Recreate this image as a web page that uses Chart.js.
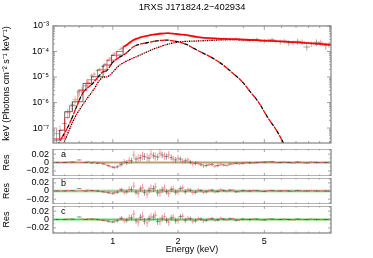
<!DOCTYPE html>
<html>
<head>
<meta charset="utf-8">
<script src="https://cdn.jsdelivr.net/npm/chart.js@4.4.1/dist/chart.umd.min.js"></script>
<style>
  body { margin: 0; background: #fff; width: 373px; height: 258px; overflow: hidden; position: relative; }
  canvas { position: absolute; left: 0; }
</style>
</head>
<body>
<canvas id="main" width="373" height="146" style="top:0px;width:373px;height:146px"></canvas>
<canvas id="resA" width="373" height="27" style="top:149px;width:373px;height:27px"></canvas>
<canvas id="resB" width="373" height="26" style="top:178px;width:373px;height:26px"></canvas>
<canvas id="resC" width="373" height="52" style="top:206px;width:373px;height:52px"></canvas>
<script>
// Texts
const TITLE = '1RXS J171824.2\u2212402934';
const Y_TITLE = 'keV (Photons cm\u207B\u00B2 s\u207B\u00B9 keV\u207B\u00B9)';
const X_TITLE = 'Energy (keV)';
const RES_TITLE = 'Res';

// Axes
const xRange = [0.53, 10.15];
const yMainRange = [2.6e-8, 1e-3];
const yResRange = [-0.032, 0.032];
const xTicks = [1, 2, 5];
const xMinorTicks = [0.6, 0.7, 0.8, 0.9, 3, 4, 6, 7, 8, 9, 10];
const yMainTicks = [1e-7, 1e-6, 1e-5, 1e-4, 1e-3];
const yResTicks = [-0.02, 0, 0.02];
const yResMinor = [-0.03, -0.01, 0.01, 0.03];

// Spectrum data (two instruments: black and red)
const energyBlack = [0.55, 0.60, 0.65, 0.70, 0.75, 0.80, 0.85, 0.90, 0.95, 1.00, 1.05, 1.10, 1.16, 1.22, 1.28, 1.34, 1.40, 1.47, 1.54, 1.61, 1.69, 1.77, 1.86, 1.95, 2.05, 2.16, 2.28, 2.41, 2.55, 2.70, 2.87, 3.05, 3.25, 3.47, 3.71, 3.98, 4.28, 4.62, 5.00, 5.43, 5.92, 6.48, 7.12, 7.85, 8.70, 9.60];
const energyRed = [0.57, 0.62, 0.67, 0.72, 0.77, 0.82, 0.87, 0.92, 0.97, 1.02, 1.08, 1.13, 1.19, 1.25, 1.31, 1.37, 1.44, 1.50, 1.57, 1.65, 1.73, 1.81, 1.90, 2.00, 2.10, 2.22, 2.34, 2.48, 2.62, 2.78, 2.96, 3.15, 3.36, 3.59, 3.84, 4.12, 4.44, 4.80, 5.20, 5.66, 6.18, 6.78, 7.46, 8.25, 9.10, 9.95];
const fluxBlack = [6e-8, 1.5e-7, 8e-7, 2.6e-6, 4.5e-6, 1.1e-5, 1.8e-5, 2.6e-5, 4.5e-5, 7.0e-5, 1.0e-4, 1.35e-4, 1.8e-4, 2.4e-4, 2.9e-4, 3.4e-4, 3.9e-4, 4.3e-4, 4.7e-4, 4.9e-4, 5.1e-4, 5.2e-4, 5.0e-4, 4.8e-4, 4.5e-4, 4.3e-4, 3.9e-4, 3.6e-4, 3.4e-4, 3.3e-4, 3.2e-4, 3.1e-4, 3.2e-4, 3.0e-4, 3.1e-4, 2.9e-4, 2.7e-4, 3.0e-4, 2.6e-4, 2.9e-4, 2.4e-4, 2.2e-4, 2.5e-4, 1.5e-4, 2.3e-4, 1.7e-4];
const fluxRed = [8e-8, 4e-7, 1.3e-6, 3.2e-6, 6e-6, 1.3e-5, 2.0e-5, 3.2e-5, 5.5e-5, 8.5e-5, 1.2e-4, 1.6e-4, 2.1e-4, 2.7e-4, 3.2e-4, 3.7e-4, 4.2e-4, 4.6e-4, 4.9e-4, 5.3e-4, 5.1e-4, 5.4e-4, 4.9e-4, 4.6e-4, 4.5e-4, 4.1e-4, 3.7e-4, 3.5e-4, 3.3e-4, 3.2e-4, 3.3e-4, 3.0e-4, 3.1e-4, 2.9e-4, 3.0e-4, 2.8e-4, 2.9e-4, 2.6e-4, 2.8e-4, 2.5e-4, 2.6e-4, 2.2e-4, 2.4e-4, 2.0e-4, 2.3e-4, 1.9e-4];
// relative errors
const fluxErrBlack = [0.6, 0.5, 0.4, 0.3, 0.25, 0.2, 0.15, 0.12, 0.1, 0.08, 0.07, 0.06, 0.05, 0.05, 0.05, 0.05, 0.05, 0.05, 0.05, 0.05, 0.05, 0.05, 0.05, 0.05, 0.05, 0.05, 0.06, 0.06, 0.07, 0.08, 0.08, 0.09, 0.1, 0.11, 0.12, 0.13, 0.14, 0.15, 0.18, 0.2, 0.22, 0.24, 0.26, 0.28, 0.3, 0.3];
const fluxErrRed = [0.55, 0.45, 0.35, 0.28, 0.22, 0.18, 0.14, 0.11, 0.09, 0.07, 0.06, 0.05, 0.05, 0.05, 0.05, 0.05, 0.05, 0.05, 0.05, 0.05, 0.05, 0.05, 0.05, 0.05, 0.05, 0.05, 0.06, 0.06, 0.07, 0.07, 0.08, 0.09, 0.1, 0.1, 0.11, 0.12, 0.13, 0.14, 0.16, 0.18, 0.2, 0.22, 0.24, 0.25, 0.27, 0.28];

// Folded model, binned at low energy (bin left edges)
const stepEnergyBlack = [0.53, 0.569, 0.600, 0.651, 0.729, 0.797, 0.902, 0.986, 1.116];
const stepFluxBlack = [3.4e-8, 8.3e-8, 4.4e-7, 1.07e-6, 5.6e-6, 1.02e-5, 2.95e-5, 7.2e-5, 1.5e-4];
const stepEnergyRed = [0.53, 0.600, 0.632, 0.690, 0.760, 0.850, 0.940, 1.040, 1.116];
const stepFluxRed = [3.8e-8, 2.6e-7, 7.5e-7, 3.0e-6, 7.8e-6, 1.9e-5, 4.6e-5, 1.0e-4, 1.5e-4];

// Total model
const modelEnergy = [1.116, 1.16, 1.24, 1.33, 1.44, 1.53, 1.65, 1.78, 1.90, 2.0, 2.2, 2.35, 2.53, 2.9, 3.2, 3.6, 4.3, 5.2, 6.2, 7.3, 8.6, 10.15];
const modelTotal = [1.5e-4, 1.8e-4, 2.8e-4, 3.5e-4, 4.1e-4, 4.5e-4, 4.9e-4, 5.2e-4, 5.05e-4, 4.8e-4, 4.4e-4, 4.0e-4, 3.6e-4, 3.3e-4, 3.15e-4, 3.05e-4, 2.85e-4, 2.65e-4, 2.45e-4, 2.25e-4, 2.05e-4, 1.85e-4];

// Components: dashed (thermal) and dotted (power law)
const bbEnergy = [0.556, 0.632, 0.681, 0.726, 0.808, 0.871, 0.90, 0.93, 1.0, 1.16, 1.24, 1.33, 1.44, 1.55, 1.65, 1.78, 1.90, 1.98, 2.2, 2.35, 2.53, 2.9, 3.23, 3.59, 3.95, 4.31, 4.69, 5.16, 5.74, 6.25];
const bbFlux = [2.1e-8, 1.5e-7, 6.9e-7, 2.3e-6, 5.6e-6, 1.2e-5, 1.6e-5, 1.7e-5, 3.8e-5, 9.0e-5, 1.5e-4, 1.9e-4, 2.2e-4, 2.5e-4, 2.7e-4, 2.8e-4, 2.6e-4, 2.45e-4, 1.85e-4, 1.35e-4, 9.8e-5, 5.4e-5, 2.95e-5, 1.38e-5, 6.6e-6, 2.6e-6, 1.07e-6, 2.75e-7, 7.2e-8, 1.86e-8];
const plEnergy = [0.587, 0.667, 0.742, 0.825, 0.871, 0.91, 0.93, 1.077, 1.334, 1.65, 1.98, 2.53, 3.59, 5.16, 7.33, 10.15];
const plFlux = [2.0e-8, 2.5e-7, 1.05e-6, 3.7e-6, 7.6e-6, 1.0e-5, 1.0e-5, 2.95e-5, 7.2e-5, 1.55e-4, 2.3e-4, 2.6e-4, 2.9e-4, 2.6e-4, 2.2e-4, 1.8e-4];

// Residuals of the three fits
const resA_black = [0.000, 0.000, 0.001, 0.006, 0.000, -0.001, -0.002, -0.003, -0.007, -0.011, -0.010, -0.004, 0.000, 0.004, 0.008, 0.011, 0.014, 0.010, 0.016, 0.013, 0.018, 0.014, 0.012, 0.006, 0.008, 0.004, 0.001, -0.002, -0.005, -0.007, -0.005, -0.007, -0.006, -0.004, -0.002, -0.002, -0.001, 0.000, 0.001, 0.002, 0.000, 0.000, 0.001, -0.001, 0.000, 0.000];
const resA_red = [0.000, 0.001, 0.001, 0.000, 0.002, 0.001, -0.001, -0.004, -0.009, -0.012, -0.006, 0.002, 0.005, 0.018, 0.010, 0.016, 0.012, 0.020, 0.014, 0.022, 0.015, 0.018, 0.008, 0.010, 0.003, 0.006, -0.003, -0.002, -0.008, -0.005, -0.009, -0.004, -0.007, -0.003, -0.003, 0.000, -0.001, 0.001, 0.002, 0.000, 0.001, -0.001, 0.000, 0.001, 0.000, 0.000];
const resB_black = [0.000, 0.000, 0.001, 0.006, 0.000, 0.001, 0.000, -0.002, -0.004, -0.006, -0.003, 0.003, -0.002, 0.004, -0.003, 0.005, -0.004, 0.002, 0.006, -0.005, 0.003, -0.002, 0.004, -0.003, 0.006, -0.002, 0.002, -0.003, 0.001, -0.002, 0.002, -0.001, 0.001, 0.002, -0.002, 0.001, 0.000, 0.001, -0.001, 0.001, 0.000, 0.000, 0.001, 0.000, 0.000, 0.000];
const resB_red = [0.000, 0.001, 0.000, 0.001, 0.002, 0.001, -0.001, -0.003, -0.005, -0.004, 0.002, -0.003, 0.004, 0.012, -0.006, 0.008, -0.008, 0.006, 0.010, -0.004, 0.007, -0.006, 0.005, -0.002, 0.008, 0.003, -0.004, 0.002, -0.003, 0.001, -0.002, 0.003, -0.001, 0.002, -0.001, 0.000, 0.001, -0.001, 0.001, 0.000, 0.001, -0.001, 0.000, 0.001, 0.000, 0.000];
const resC_black = [0.000, 0.000, 0.001, 0.006, 0.000, 0.001, 0.000, -0.002, -0.004, -0.006, -0.003, 0.003, -0.002, 0.004, -0.003, 0.005, -0.004, 0.002, 0.006, -0.005, 0.003, -0.002, 0.004, -0.003, 0.007, -0.002, 0.002, -0.003, 0.001, -0.002, 0.002, -0.001, 0.001, 0.002, -0.002, 0.001, 0.000, 0.001, -0.001, 0.001, 0.000, 0.000, 0.001, 0.000, 0.000, 0.000];
const resC_red = [0.000, 0.001, 0.000, 0.001, 0.002, 0.001, -0.001, -0.003, -0.005, -0.004, 0.002, -0.003, 0.004, 0.013, -0.006, 0.008, -0.008, 0.006, 0.010, -0.004, 0.007, -0.006, 0.005, -0.002, 0.008, 0.003, -0.004, 0.002, -0.003, 0.001, -0.002, 0.003, -0.001, 0.002, -0.001, 0.000, 0.001, -0.001, 0.001, 0.000, 0.001, -0.001, 0.000, 0.001, 0.000, 0.000];
const resErrBlack = [0.001, 0.001, 0.001, 0.001, 0.001, 0.0015, 0.002, 0.002, 0.003, 0.003, 0.004, 0.005, 0.006, 0.007, 0.007, 0.008, 0.008, 0.008, 0.008, 0.008, 0.008, 0.007, 0.007, 0.007, 0.006, 0.006, 0.005, 0.005, 0.004, 0.004, 0.004, 0.004, 0.003, 0.003, 0.003, 0.003, 0.003, 0.002, 0.002, 0.002, 0.002, 0.002, 0.002, 0.002, 0.002, 0.002];
const resErrRed = [0.001, 0.001, 0.001, 0.001, 0.001, 0.0015, 0.002, 0.002, 0.003, 0.004, 0.005, 0.006, 0.008, 0.010, 0.010, 0.010, 0.010, 0.010, 0.010, 0.010, 0.009, 0.009, 0.008, 0.008, 0.007, 0.006, 0.006, 0.005, 0.005, 0.004, 0.004, 0.004, 0.003, 0.003, 0.003, 0.003, 0.003, 0.002, 0.002, 0.002, 0.002, 0.002, 0.002, 0.002, 0.002, 0.002];

const FONT = '"Liberation Sans", Arial, sans-serif';
Chart.defaults.font.family = FONT;
Chart.defaults.font.size = 9;
Chart.defaults.color = '#000';

const SUP = { '-': '\u207B', '0': '\u2070', '1': '\u00B9', '2': '\u00B2', '3': '\u00B3', '4': '\u2074', '5': '\u2075', '6': '\u2076', '7': '\u2077', '8': '\u2078', '9': '\u2079' };
const sup = n => String(n).split('').map(c => SUP[c]).join('');

const pts = (xs, ys) => xs.map((e, i) => ({ x: e, y: ys[i] }));
const line = (xs, ys, color, extra) => Object.assign({
    data: pts(xs, ys), borderColor: color, borderWidth: 1, pointRadius: 0,
    showLine: true, fill: false, tension: 0
}, extra);

// error crosses, drawn through the chart scales
function crossPlugin(sets, after) {
    const draw = chart => {
        const { ctx, chartArea: a, scales: { x, y } } = chart;
        ctx.save();
        ctx.beginPath();
        ctx.rect(a.left, a.top, a.right - a.left, a.bottom - a.top);
        ctx.clip();
        sets.forEach(s => {
            ctx.strokeStyle = s.color;
            ctx.lineWidth = s.width;
            ctx.beginPath();
            s.e.forEach((e, i) => {
                const n = s.e.length;
                const dl = i < n - 1 ? Math.log10(s.e[i + 1] / e) : Math.log10(e / s.e[i - 1]);
                const lo = e * Math.pow(10, -0.36 * dl), hi = e * Math.pow(10, 0.36 * dl);
                const v = s.v[i];
                const dv = s.rel ? v * s.err[i] : s.err[i];
                const px = x.getPixelForValue(e), py = y.getPixelForValue(v);
                ctx.moveTo(x.getPixelForValue(lo), py);
                ctx.lineTo(x.getPixelForValue(hi), py);
                ctx.moveTo(px, y.getPixelForValue(v - dv));
                ctx.lineTo(px, y.getPixelForValue(v + dv));
            });
            ctx.stroke();
        });
        ctx.restore();
    };
    return after ? { id: 'crossesAfter', afterDatasetsDraw: draw } : { id: 'crossesBefore', beforeDatasetsDraw: draw };
}

// frame with inward ticks, panel label, rotated y title
function framePlugin(cfg) {
    return {
        id: 'frame',
        afterDraw(chart) {
            const { ctx, chartArea: a, scales: { x, y } } = chart;
            ctx.save();
            ctx.strokeStyle = '#8a8a8a';
            ctx.lineWidth = 1.3;
            ctx.strokeRect(a.left, a.top, a.right - a.left, a.bottom - a.top);
            ctx.lineWidth = 0.8;
            ctx.beginPath();
            const tx = (v, len) => {
                const p = x.getPixelForValue(v);
                ctx.moveTo(p, a.top); ctx.lineTo(p, a.top + len);
                ctx.moveTo(p, a.bottom); ctx.lineTo(p, a.bottom - len);
            };
            const ty = (v, len) => {
                const p = y.getPixelForValue(v);
                if (p < a.top - 0.5 || p > a.bottom + 0.5) return;
                ctx.moveTo(a.left, p); ctx.lineTo(a.left + len, p);
                ctx.moveTo(a.right, p); ctx.lineTo(a.right - len, p);
            };
            xTicks.forEach(v => tx(v, cfg.major));
            xMinorTicks.forEach(v => tx(v, cfg.minor));
            cfg.yMajor.forEach(v => ty(v, cfg.major));
            cfg.yMinor.forEach(v => ty(v, cfg.minor));
            ctx.stroke();
            ctx.fillStyle = '#000';
            ctx.font = '9px ' + FONT;
            if (cfg.label) {
                ctx.textBaseline = 'middle';
                ctx.textAlign = 'left';
                ctx.fillText(cfg.label, a.left + 8, a.top + 6);
            }
            if (cfg.yTitle) {
                ctx.translate(6.5, (a.top + a.bottom) / 2 - 1);
                ctx.rotate(-Math.PI / 2);
                ctx.textAlign = 'center';
                ctx.textBaseline = 'middle';
                ctx.fillText(cfg.yTitle, 0, 0);
            }
            ctx.restore();
        }
    };
}

const logMinor = [];
[1e-8, 1e-7, 1e-6, 1e-5, 1e-4].forEach(d => { for (let k = 2; k <= 9; k++) logMinor.push(k * d); });

const noPad = s => { s.paddingTop = 0; s.paddingBottom = 0; s.paddingLeft = 0; s.paddingRight = 0; };
const hiddenX = { type: 'logarithmic', min: xRange[0], max: xRange[1], display: false, afterFit: noPad };
const fixW = s => { s.width = 53; noPad(s); };

// main spectrum
new Chart(document.getElementById('main'), {
    type: 'scatter',
    data: {
        datasets: [
            line(modelEnergy, modelTotal, '#ff0000', { borderWidth: 1.6, cubicInterpolationMode: 'monotone' }),
            line(stepEnergyRed, stepFluxRed, 'rgba(255,40,40,0.8)', { borderWidth: 0.9, stepped: 'before' }),
            line(stepEnergyBlack, stepFluxBlack, 'rgba(0,0,0,0.65)', { borderWidth: 0.9, stepped: 'before' }),
            line(bbEnergy, bbFlux, '#ff0000', { borderWidth: 1.3, borderDash: [5, 5], borderDashOffset: 5, cubicInterpolationMode: 'monotone' }),
            line(bbEnergy, bbFlux, '#000000', { borderWidth: 1.3, borderDash: [4, 6], cubicInterpolationMode: 'monotone' }),
            line(plEnergy, plFlux, '#ff0000', { borderWidth: 1.3, borderDash: [1.5, 3], borderDashOffset: 2.25, cubicInterpolationMode: 'monotone' }),
            line(plEnergy, plFlux, '#000000', { borderWidth: 1.3, borderDash: [1.5, 3], cubicInterpolationMode: 'monotone' })
        ]
    },
    options: {
        responsive: false, animation: false, events: [],
        layout: { padding: { left: 0, right: 42, top: 0, bottom: 3 } },
        plugins: {
            legend: { display: false }, tooltip: { enabled: false },
            title: { display: true, text: TITLE, fullSize: false, color: '#000', font: { size: 9.3, weight: 'normal' }, padding: { top: 2, bottom: 12.8 } }
        },
        scales: {
            x: hiddenX,
            y: {
                type: 'logarithmic', min: yMainRange[0], max: yMainRange[1],
                grid: { display: false, drawTicks: false }, border: { display: false },
                afterBuildTicks: s => { s.ticks = yMainTicks.map(v => ({ value: v })); },
                afterFit: fixW,
                ticks: { callback: v => '10' + sup(Math.round(Math.log10(v))), padding: 4, color: '#000', autoSkip: false }
            }
        }
    },
    plugins: [
        crossPlugin([
            { e: energyRed, v: fluxRed, err: fluxErrRed, rel: true, color: 'rgba(255,90,90,0.55)', width: 1 },
            { e: energyBlack, v: fluxBlack, err: fluxErrBlack, rel: true, color: 'rgba(60,60,60,0.55)', width: 0.8 }
        ], false),
        framePlugin({ major: 4, minor: 2, yMajor: yMainTicks, yMinor: logMinor, yTitle: Y_TITLE })
    ]
});

// residual panels
function residualPanel(id, label, resBlack, resRed, withXAxis) {
    const x = withXAxis ? {
        type: 'logarithmic', min: xRange[0], max: xRange[1],
        grid: { display: false, drawTicks: false }, border: { display: false },
        afterBuildTicks: s => { s.ticks = xTicks.map(v => ({ value: v })); },
        afterFit: s => { s.height = 25; noPad(s); },
        ticks: { callback: v => String(v), padding: 3.3, maxRotation: 0, autoSkip: false, color: '#000' },
        title: { display: true, text: X_TITLE, color: '#000', font: { size: 9 }, padding: { top: 0, bottom: 3.3 } }
    } : hiddenX;
    new Chart(document.getElementById(id), {
        type: 'scatter',
        data: {
            datasets: [
                line(xRange, [0, 0], 'rgba(200,40,40,0.6)', { borderWidth: 0.7 }),
                line(xRange, [0, 0], '#aeeeae', { borderWidth: 3.2 })
            ]
        },
        options: {
            responsive: false, animation: false, events: [],
            layout: { padding: { left: 0, right: 42, top: 0, bottom: 0 } },
            plugins: { legend: { display: false }, tooltip: { enabled: false } },
            scales: {
                x: x,
                y: {
                    min: yResRange[0], max: yResRange[1],
                    grid: { display: false, drawTicks: false }, border: { display: false },
                    afterBuildTicks: s => { s.ticks = yResTicks.map(v => ({ value: v })); },
                    afterFit: fixW,
                    ticks: { callback: v => v === 0 ? '0' : (v < 0 ? '\u2212' : '') + Math.abs(v).toFixed(2), padding: 4, color: '#000', autoSkip: false },
                    title: { display: true, text: RES_TITLE, color: '#000', font: { size: 9 }, padding: { top: 1, bottom: 0 } }
                }
            }
        },
        plugins: [
            crossPlugin([
                { e: energyRed, v: resRed, err: resErrRed, rel: false, color: 'rgba(255,90,90,0.6)', width: 1 },
                { e: energyBlack, v: resBlack, err: resErrBlack, rel: false, color: 'rgba(50,50,50,0.6)', width: 0.8 }
            ], true),
            framePlugin({ major: 3, minor: 1.5, yMajor: yResTicks, yMinor: yResMinor, label: label })
        ]
    });
}

residualPanel('resA', 'a', resA_black, resA_red, false);
residualPanel('resB', 'b', resB_black, resB_red, false);
residualPanel('resC', 'c', resC_black, resC_red, true);
</script>
</body>
</html>
